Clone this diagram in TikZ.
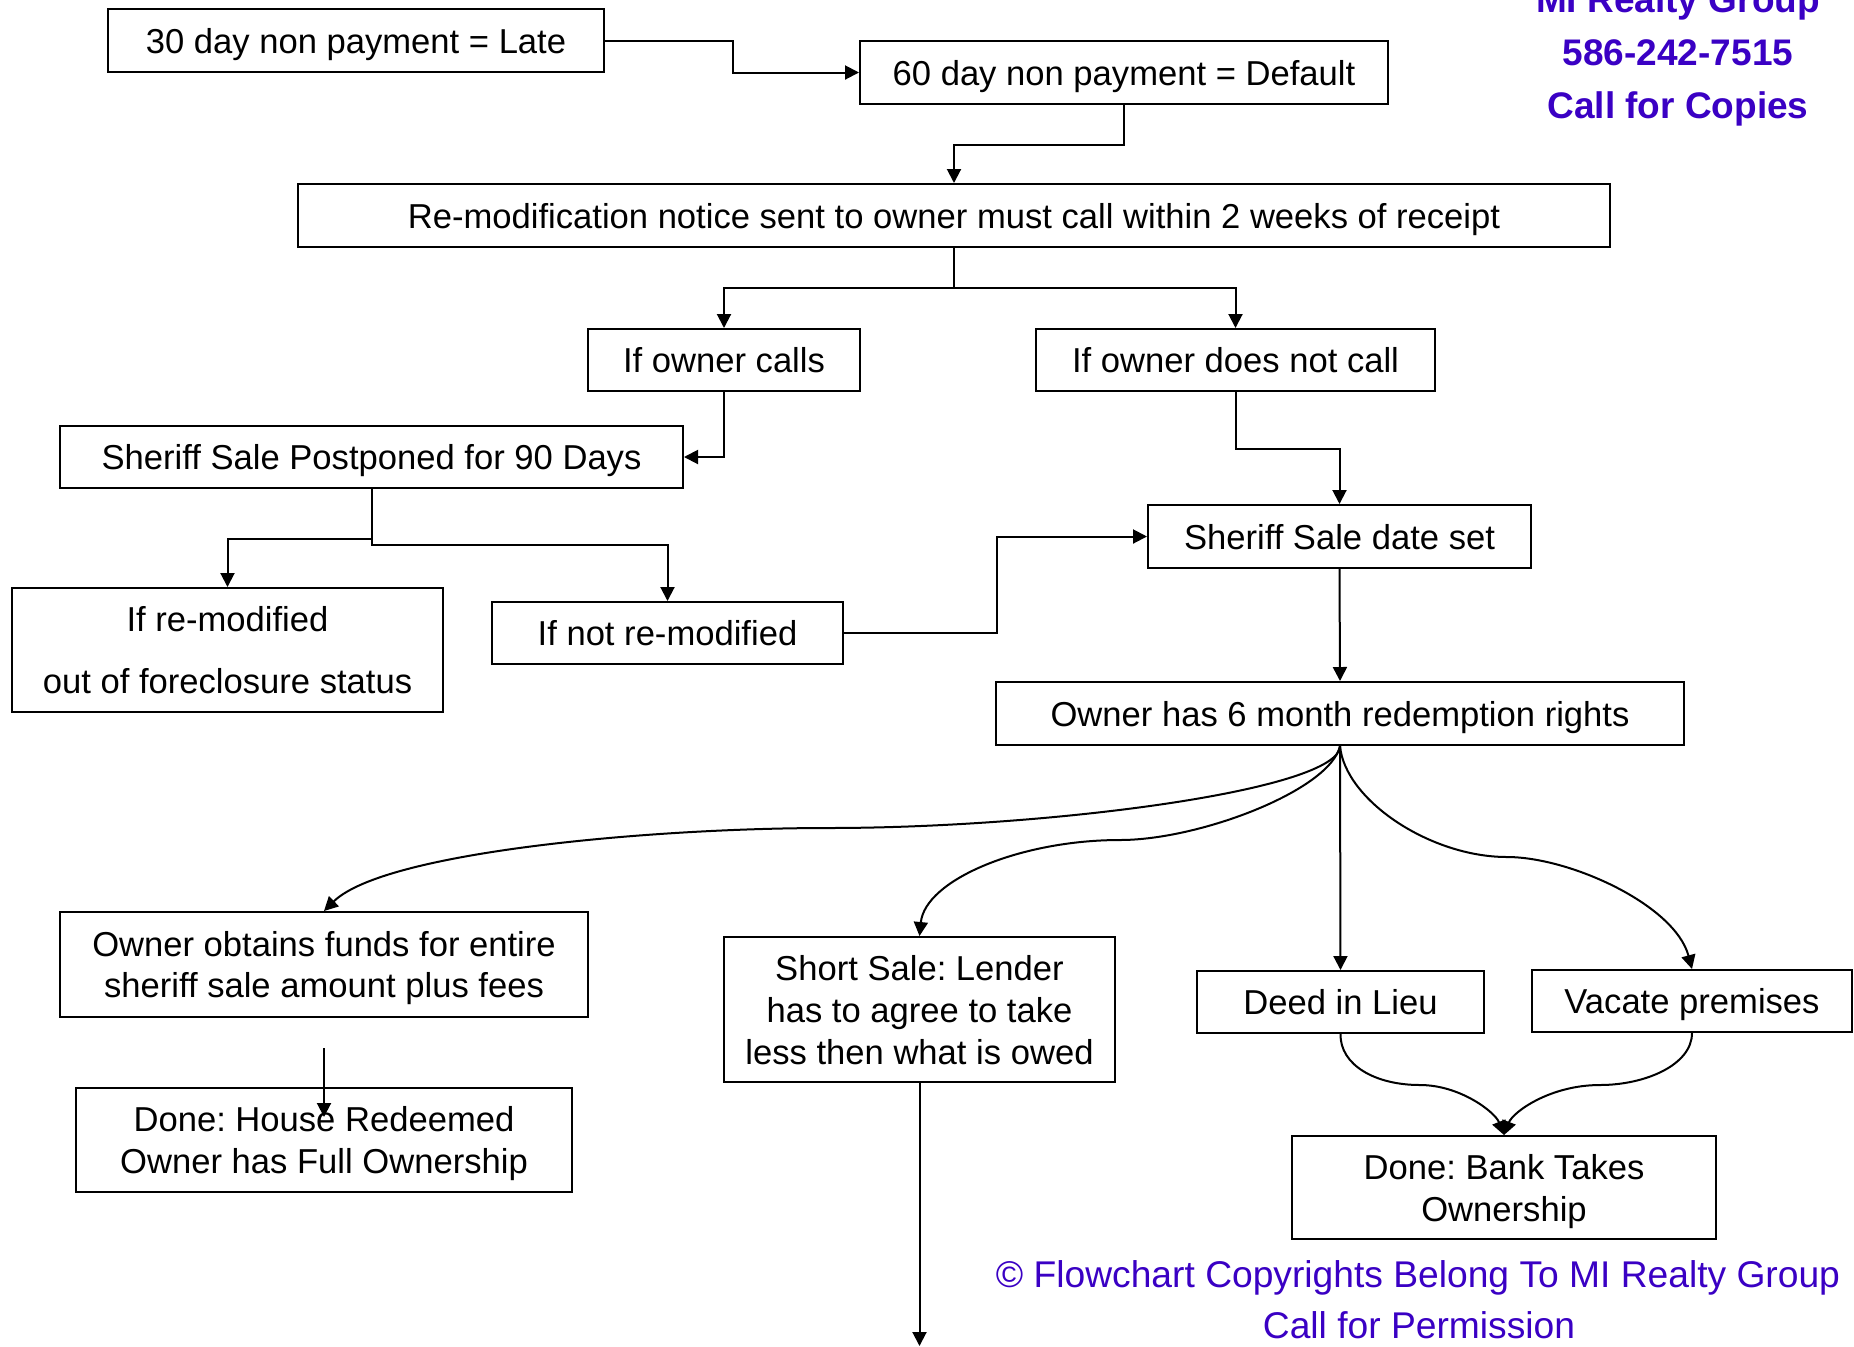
\documentclass[tikz,border=0pt]{standalone}
\usepackage{fontspec}
\setmainfont{Liberation Sans}
\usetikzlibrary{arrows.meta}
\definecolor{mipurple}{HTML}{3A00C4}
\frenchspacing
\begin{document}
\begin{tikzpicture}[x=0.5pt,y=-0.5pt,
  box/.style={draw, line width=1pt, inner sep=0pt, align=center, text depth=0pt,
    font=\fontsize{17.3}{20.5}\selectfont\frenchspacing},
  arr/.style={line width=1pt, -{Triangle[length=7pt,width=7pt]}},
  brand/.style={text=mipurple, font=\fontsize{18.5}{22}\selectfont\bfseries, anchor=base},
  copy/.style={text=mipurple, font=\fontsize{18.6}{22}\selectfont, anchor=base}]
\fill[white] (0,0) rectangle (1854,1346);
\useasboundingbox (0,0) rectangle (1854,1346);

% boxes
\node[box, minimum width=248pt, minimum height=31.5pt] (b1) at (356,40.5) {30 day non payment = Late};
\node[box, minimum width=264pt, minimum height=31.5pt] (b2) at (1124,72.5) {60 day non payment = Default};
\node[box, minimum width=656pt, minimum height=31.5pt] (b3) at (954,215.5) {Re-modification notice sent to owner must call within 2 weeks of receipt};
\node[box, minimum width=136pt, minimum height=31pt] (b4) at (724,360) {If owner calls};
\node[box, minimum width=199.5pt, minimum height=31pt] (b5) at (1235.5,360) {If owner does not call};
\node[box, minimum width=311.5pt, minimum height=31pt] (b6) at (371.5,457) {Sheriff Sale Postponed for 90 Days};
\node[box, minimum width=191.5pt, minimum height=31.5pt] (b7) at (1339.5,536.5) {Sheriff Sale date set};
\node[box, minimum width=215.5pt, minimum height=62pt, font=\fontsize{17.3}{31}\selectfont] (b8) at (227.5,650) {If re-modified\\out of foreclosure status};
\node[box, minimum width=175.5pt, minimum height=31pt] (b9) at (667.5,633) {If not re-modified};
\node[box, minimum width=344pt, minimum height=31.5pt] (b10) at (1340,713.5) {Owner has 6 month redemption rights};
\node[box, minimum width=264pt, minimum height=52.5pt] (b11) at (324,964.5) {Owner obtains funds for entire\\sheriff sale amount plus fees};
\node[box, minimum width=195.5pt, minimum height=72.5pt, font=\fontsize{17.3}{21}\selectfont\frenchspacing] (b12) at (919.5,1009.5) {Short Sale: Lender\\has to agree to take\\less then what is owed};
\node[box, minimum width=143.5pt, minimum height=31pt] (b13) at (1340.5,1002) {Deed in Lieu};
\node[box, minimum width=160pt, minimum height=31pt] (b14) at (1692,1001) {Vacate premises};
\node[box, minimum width=248pt, minimum height=52pt, font=\fontsize{17.3}{21}\selectfont\frenchspacing] (b15) at (324,1140) {Done: House Redeemed\\Owner has Full Ownership};
\node[box, minimum width=212pt, minimum height=51.5pt, font=\fontsize{17.3}{21}\selectfont\frenchspacing] (b16) at (1504,1187.5) {Done: Bank Takes\\Ownership};

% free ends
\coordinate (f1) at (324,1048);
\coordinate (f2) at (324,1117);
\coordinate (f3) at (919.5,1346);

% elbow connectors
\draw[arr] (b1.east) -- ++(128,0) |- (b2.west);
\draw[arr] (b2.south) -- ++(0,40) -| (b3.north);
\draw[arr] (b3.south) -- ++(0,40) -| (b4.north);
\draw[arr] (b3.south) -- ++(0,40) -| (b5.north);
\draw[arr] (b4.south) |- (b6.east);
\draw[arr] (b5.south) -- ++(0,57) -| (b7.north);
\draw[arr] (b6.south) -- ++(0,50) -| (b8.north);
\draw[arr] (b6.south) -- ++(0,56) -| (b9.north);
\draw[arr] (b9.east) -- ++(153,0) |- (b7.west);
\draw[arr] (b7.south) -- (b10.north);

% curved connectors from redemption rights
\draw[arr] (b10.south) .. controls (1340,790) and (1050,828) .. (828,828)
  .. controls (650,828) and (384,852) .. (b11.north);
\draw[arr] (b10.south) .. controls (1330,790) and (1200,840) .. (1120,840)
  .. controls (1020,840) and (925,880) .. (b12.north);
\draw[arr] (b10.south) -- (b13.north);
\draw[arr] (b10.south) .. controls (1345,800) and (1430,857) .. (1507,857)
  .. controls (1570,857) and (1675,905) .. (b14.north);

% to bank takes ownership
\draw[arr] (b13.south) .. controls (1340,1065) and (1375,1085) .. (1420,1085)
  .. controls (1460,1085) and (1495,1112) .. (b16.north);
\draw[arr] (b14.south) .. controls (1692,1065) and (1645,1085) .. (1600,1085)
  .. controls (1550,1085) and (1513,1112) .. (b16.north);

% other arrows
\draw[arr] (f1) -- (f2);
\draw[arr] (b12.south) -- (f3);

% texts
\node[brand] (t1) at (1678,12) {MI Realty Group};
\node[brand] (t2) at (1678,65) {586-242-7515};
\node[brand] (t3) at (1678,118) {Call for Copies};
\node[copy] (c1) at (1418,1287) {© Flowchart Copyrights Belong To MI Realty Group};
\node[copy] (c2) at (1419,1338) {Call for Permission};
\end{tikzpicture}
\end{document}
